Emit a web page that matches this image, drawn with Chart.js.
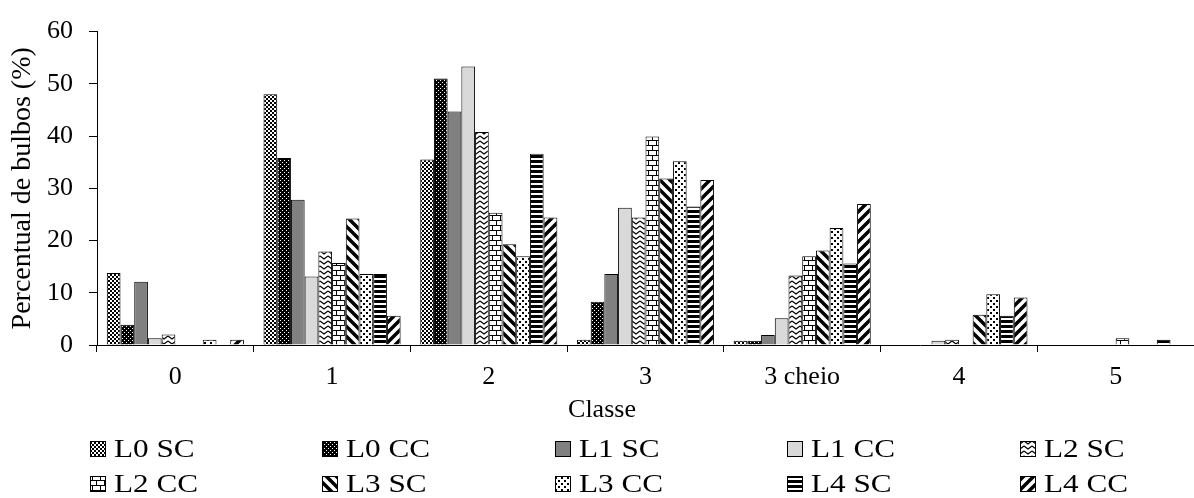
<!DOCTYPE html>
<html>
<head>
<meta charset="utf-8">
<script src="https://cdn.jsdelivr.net/npm/chart.js@4.4.0/dist/chart.umd.min.js"></script>
<style>
  html, body { margin: 0; padding: 0; background: #fff; }
  #wrap { width: 1194px; height: 498px; }
</style>
</head>
<body>
<div id="wrap"><canvas id="chart" width="1194" height="498"></canvas></div>
<script>
// Classe de bulbos
const categories = ["0", "1", "2", "3", "3 cheio", "4", "5"];
const yTicks = [0, 10, 20, 30, 40, 50, 60];

// Percentual de bulbos (%) per series
const l0sc = [13.8, 48.0, 35.5, 1.0, 0.8, 0, 0];
const l0cc = [3.9, 35.8, 51.0, 8.3, 0.8, 0, 0];
const l1sc = [12.1, 27.8, 44.7, 13.6, 1.9, 0, 0];
const l1cc = [1.3, 13.1, 53.3, 26.3, 5.1, 0.8, 0];
const l2sc = [2.0, 17.9, 40.8, 24.4, 13.3, 1.0, 0];
const l2cc = [0, 15.7, 25.3, 39.9, 17.0, 0, 1.3];
const l3sc = [0, 24.2, 19.3, 31.9, 18.1, 5.8, 0];
const l3cc = [1.0, 13.6, 17.0, 35.2, 22.4, 9.7, 0];
const l4sc = [0, 13.6, 36.6, 26.5, 15.6, 5.6, 1.0];
const l4cc = [1.0, 5.6, 24.4, 31.6, 27.0, 9.1, 0];

const FONT = "'Liberation Serif', 'Times New Roman', serif";

// small tiles used as bar fills
function makePattern(w, h, draw) {
  const c = document.createElement("canvas");
  c.width = w; c.height = h;
  const g = c.getContext("2d");
  g.fillStyle = "#fff";
  g.fillRect(0, 0, w, h);
  g.fillStyle = "#000";
  g.strokeStyle = "#000";
  draw(g, w, h);
  return g.createPattern(c, "repeat");
}

const fills = {
  checker: makePattern(4, 4, g => { g.fillRect(0, 0, 2, 2); g.fillRect(2, 2, 2, 2); }),
  darkDots: makePattern(4, 4, g => {
    g.fillRect(0, 0, 4, 4);
    g.fillStyle = "#fff";
    g.fillRect(0, 0, 1, 1); g.fillRect(2, 2, 1, 1);
  }),
  wave: makePattern(8, 5, g => {
    g.lineWidth = 1.2;
    g.beginPath(); g.moveTo(0, 1); g.lineTo(4, 4); g.lineTo(8, 1); g.stroke();
  }),
  bricks: makePattern(8, 10, g => {
    g.fillRect(0, 0, 8, 1); g.fillRect(0, 5, 8, 1);
    g.fillRect(0, 0, 1, 5); g.fillRect(4, 5, 1, 5);
  }),
  back: makePattern(10, 10, g => {
    g.lineWidth = 3.5;
    g.beginPath();
    g.moveTo(-2, -2); g.lineTo(12, 12);
    g.moveTo(-2, 8); g.lineTo(2, 12);
    g.moveTo(8, -2); g.lineTo(12, 2);
    g.stroke();
  }),
  confetti: makePattern(6, 6, g => { g.fillRect(0, 0, 2, 2); g.fillRect(3, 3, 2, 2); }),
  hstripe: makePattern(4, 5, g => { g.fillRect(0, 0, 4, 3); }),
  fwd: makePattern(10, 10, g => {
    g.lineWidth = 3.5;
    g.beginPath();
    g.moveTo(-2, 12); g.lineTo(12, -2);
    g.moveTo(-2, 2); g.lineTo(2, -2);
    g.moveTo(8, 12); g.lineTo(12, 8);
    g.stroke();
  })
};

const series = [
  { label: "L0 SC", data: l0sc, fill: fills.checker },
  { label: "L0 CC", data: l0cc, fill: fills.darkDots },
  { label: "L1 SC", data: l1sc, fill: "#808080" },
  { label: "L1 CC", data: l1cc, fill: "#d9d9d9" },
  { label: "L2 SC", data: l2sc, fill: fills.wave },
  { label: "L2 CC", data: l2cc, fill: fills.bricks },
  { label: "L3 SC", data: l3sc, fill: fills.back },
  { label: "L3 CC", data: l3cc, fill: fills.confetti },
  { label: "L4 SC", data: l4sc, fill: fills.hstripe },
  { label: "L4 CC", data: l4cc, fill: fills.fwd }
];

// legend in 5 fixed columns, 2 rows, plus the x title (drawn on the canvas)
const legendX = [90, 322, 555, 787, 1020];
const legendBase = [457, 492];
const gridLegend = {
  id: "gridLegend",
  afterDraw(chart) {
    const ctx = chart.ctx;
    ctx.save();
    ctx.fillStyle = "#000";
    ctx.font = "26px " + FONT;
    ctx.textAlign = "center";
    ctx.textBaseline = "alphabetic";
    ctx.fillText("Classe", 602, 417);

    chart.data.datasets.forEach((ds, i) => {
      const x = legendX[i % 5];
      const base = legendBase[Math.floor(i / 5)];
      ctx.fillStyle = ds.backgroundColor;
      ctx.fillRect(x, base - 16, 16, 16);
      ctx.strokeStyle = "#000";
      ctx.lineWidth = 1;
      ctx.strokeRect(x + 0.5, base - 15.5, 15, 15);
      ctx.save();
      ctx.translate(x + 24, base);
      ctx.scale(1.2, 1);
      ctx.fillStyle = "#000";
      ctx.font = "26px " + FONT;
      ctx.textAlign = "left";
      ctx.fillText(ds.label, 0, 0);
      ctx.restore();
    });
    ctx.restore();
  }
};

new Chart(document.getElementById("chart"), {
  type: "bar",
  data: {
    labels: categories,
    datasets: series.map(s => ({
      label: s.label,
      data: s.data,
      backgroundColor: s.fill,
      borderColor: "#000",
      borderWidth: 1
    }))
  },
  options: {
    responsive: false,
    animation: false,
    categoryPercentage: 0.875,
    barPercentage: 1.0,
    layout: { padding: { top: 27, right: 0, bottom: 74, left: 0 } },
    plugins: {
      legend: { display: false },
      tooltip: { enabled: false }
    },
    scales: {
      x: {
        ticks: { color: "#000", font: { family: FONT, size: 26 }, padding: 10 },
        grid: { offset: true, drawOnChartArea: false, drawTicks: true, tickLength: 7, color: "#000" },
        border: { color: "#000", width: 1 },
        title: { display: false },
        afterFit: s => { s.height = 79; }
      },
      y: {
        min: 0,
        max: 60,
        afterBuildTicks: s => { s.ticks = yTicks.map(v => ({ value: v })); },
        ticks: { color: "#000", font: { family: FONT, size: 26 }, padding: 16 },
        grid: { drawOnChartArea: false, drawTicks: true, tickLength: 8, color: "#000" },
        border: { color: "#000", width: 1 },
        title: {
          display: true, text: "Percentual de bulbos (%)", color: "#000",
          font: { family: FONT, size: 28 }, padding: { top: 6, bottom: 0 }
        },
        afterFit: s => { s.width = 97; }
      }
    }
  },
  plugins: [gridLegend]
});
</script>
</body>
</html>
